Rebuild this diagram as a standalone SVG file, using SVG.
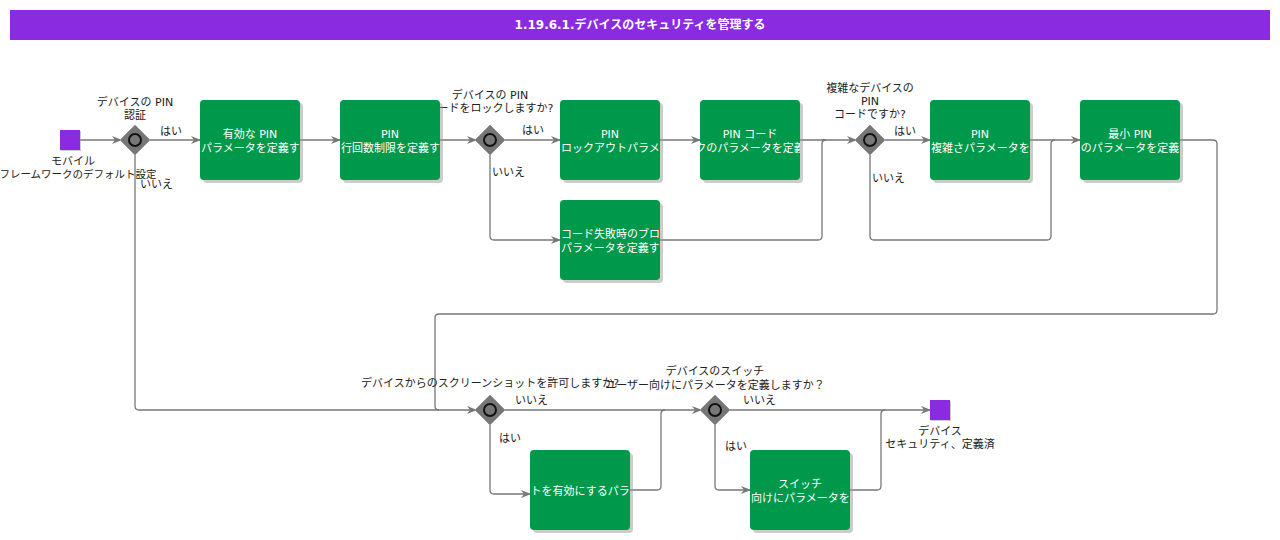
<svg xmlns="http://www.w3.org/2000/svg" width="1280" height="540" viewBox="0 0 1280 540">
<style>
text{font-family:"DejaVu Sans","Noto Sans CJK JP",sans-serif;font-size:11px;fill:#222}
.t{fill:#fff;text-anchor:middle}
.s{fill:#fff;text-anchor:start}
.c{text-anchor:middle}
.box{fill:#00984A}
.sh{fill:#999;opacity:.5}
.ln{fill:none;stroke:#777;stroke-width:1.3}
.gw{fill:#777;stroke:#999}
.gc{fill:#777;stroke:#111;stroke-width:2}
.ev{fill:#8A2BE2}
</style>
<defs>
<marker id="a" markerWidth="10" markerHeight="10" refX="9" refY="5" orient="auto" markerUnits="userSpaceOnUse"><path d="M0,1 L10,5 L0,9 L3,5 Z" fill="#777"/></marker>
<clipPath id="c1"><rect x="200" y="100" width="100" height="80"/></clipPath>
<clipPath id="c2"><rect x="340" y="100" width="100" height="80"/></clipPath>
<clipPath id="c3"><rect x="560" y="100" width="100" height="80"/></clipPath>
<clipPath id="c4"><rect x="700" y="100" width="100" height="80"/></clipPath>
<clipPath id="c5"><rect x="560" y="200" width="100" height="80"/></clipPath>
<clipPath id="c6"><rect x="930" y="100" width="100" height="80"/></clipPath>
<clipPath id="c7"><rect x="1080" y="100" width="100" height="80"/></clipPath>
<clipPath id="c8"><rect x="530" y="450" width="100" height="80"/></clipPath>
<clipPath id="c9"><rect x="750" y="450" width="100" height="80"/></clipPath>
</defs>
<rect x="10" y="10" width="1260" height="30" fill="#8A2BE2"/>
<text x="640" y="29" class="t" style="font-weight:bold;font-size:12px">1.19.6.1.デバイスのセキュリティを管理する</text>

<g id="connectors">
<path class="ln" d="M80,140 H121" marker-end="url(#a)"/>
<path class="ln" d="M149,140 H200" marker-end="url(#a)"/>
<path class="ln" d="M135,154 V406 Q135,410 139,410 H476" marker-end="url(#a)"/>
<path class="ln" d="M300,140 H340" marker-end="url(#a)"/>
<path class="ln" d="M440,140 H476" marker-end="url(#a)"/>
<path class="ln" d="M504,140 H560" marker-end="url(#a)"/>
<path class="ln" d="M490,154 V236 Q490,240 494,240 H560" marker-end="url(#a)"/>
<path class="ln" d="M660,140 H700" marker-end="url(#a)"/>
<path class="ln" d="M800,140 H826 Q822,140 822,144 V236 Q822,240 818,240 H660"/>
<path class="ln" d="M822,140 H856" marker-end="url(#a)"/>
<path class="ln" d="M884,140 H930" marker-end="url(#a)"/>
<path class="ln" d="M870,154 V236 Q870,240 874,240 H1047 Q1051,240 1051,236 V144 Q1051,140 1055,140"/>
<path class="ln" d="M1030,140 H1080" marker-end="url(#a)"/>
<path class="ln" d="M1180,140 H1213 Q1217,140 1217,144 V310 Q1217,314 1213,314 H439 Q435,314 435,318 V406 Q435,410 439,410"/>
<path class="ln" d="M504,410 H701" marker-end="url(#a)"/>
<path class="ln" d="M490,424 V490 Q490,494 494,494 H530" marker-end="url(#a)"/>
<path class="ln" d="M630,490 H657 Q661,490 661,486 V414 Q661,410 665,410"/>
<path class="ln" d="M729,410 H930" marker-end="url(#a)"/>
<path class="ln" d="M715,424 V486 Q715,490 719,490 H750" marker-end="url(#a)"/>
<path class="ln" d="M850,490 H877 Q881,490 881,486 V414 Q881,410 885,410"/>
<text x="160" y="135">はい</text>
<text x="140" y="188">いいえ</text>
<text x="522" y="134">はい</text>
<text x="492" y="176">いいえ</text>
<text x="894" y="135">はい</text>
<text x="872" y="182">いいえ</text>
<text x="515" y="404">いいえ</text>
<text x="499" y="442">はい</text>
<text x="743" y="404">いいえ</text>
<text x="725" y="450">はい</text>
</g>

<g id="start"><rect x="61" y="131" width="20" height="20" class="sh"/><rect x="60" y="130" width="20" height="20" class="ev"/>
<text x="73" y="165" class="c">モバイル</text><text x="78" y="178" class="c" style="font-size:10.5px">フレームワークのデフォルト設定</text></g>
<g id="end"><rect x="931" y="401" width="20" height="20" class="sh"/><rect x="930" y="400" width="20" height="20" class="ev"/>
<text x="940" y="435" class="c">デバイス</text><text x="940" y="448" class="c">セキュリティ、定義済</text></g>

<g id="g1"><path class="gw" d="M135,125 L150,140 L135,155 L120,140 Z"/><circle cx="135" cy="140" r="6" class="gc"/>
<text x="135" y="106" class="c">デバイスの PIN</text><text x="135" y="119" class="c">認証</text></g>
<g id="g2"><path class="gw" d="M490,125 L505,140 L490,155 L475,140 Z"/><circle cx="490" cy="140" r="6" class="gc"/>
<text x="490" y="99" class="c">デバイスの PIN</text><text x="490" y="112" class="c">コードをロックしますか?</text></g>
<g id="g3"><path class="gw" d="M870,125 L885,140 L870,155 L855,140 Z"/><circle cx="870" cy="140" r="6" class="gc"/>
<text x="870" y="92" class="c">複雑なデバイスの</text><text x="870" y="105" class="c">PIN</text><text x="870" y="118" class="c">コードですか?</text></g>
<g id="g4"><path class="gw" d="M490,395 L505,410 L490,425 L475,410 Z"/><circle cx="490" cy="410" r="6" class="gc"/>
<text x="490" y="387" class="c">デバイスからのスクリーンショットを許可しますか?</text></g>
<g id="g5"><path class="gw" d="M715,395 L730,410 L715,425 L700,410 Z"/><circle cx="715" cy="410" r="6" class="gc"/>
<text x="715" y="375" class="c">デバイスのスイッチ</text><text x="715" y="389" class="c">ユーザー向けにパラメータを定義しますか？</text></g>

<g id="n1"><rect x="203" y="103" width="100" height="80" rx="4" class="sh"/><rect x="200" y="100" width="100" height="80" rx="4" class="box"/>
<g clip-path="url(#c1)"><text x="250" y="138" class="t">有効な PIN</text><text x="201" y="152" class="s">パラメータを定義する</text></g></g>
<g id="n2"><rect x="343" y="103" width="100" height="80" rx="4" class="sh"/><rect x="340" y="100" width="100" height="80" rx="4" class="box"/>
<g clip-path="url(#c2)"><text x="390" y="138" class="t">PIN</text><text x="341" y="152" class="s">行回数制限を定義する</text></g></g>
<g id="n3"><rect x="563" y="103" width="100" height="80" rx="4" class="sh"/><rect x="560" y="100" width="100" height="80" rx="4" class="box"/>
<g clip-path="url(#c3)"><text x="610" y="138" class="t">PIN</text><text x="561" y="152" class="s">ロックアウトパラメータを定義する</text></g></g>
<g id="n4"><rect x="703" y="103" width="100" height="80" rx="4" class="sh"/><rect x="700" y="100" width="100" height="80" rx="4" class="box"/>
<g clip-path="url(#c4)"><text x="750" y="138" class="t">PIN コード</text><text x="750" y="152" class="t">ロックのパラメータを定義する</text></g></g>
<g id="n5"><rect x="563" y="203" width="100" height="80" rx="4" class="sh"/><rect x="560" y="200" width="100" height="80" rx="4" class="box"/>
<g clip-path="url(#c5)"><text x="561" y="238" class="s">コード失敗時のブロック</text><text x="561" y="252" class="s">パラメータを定義する</text></g></g>
<g id="n6"><rect x="933" y="103" width="100" height="80" rx="4" class="sh"/><rect x="930" y="100" width="100" height="80" rx="4" class="box"/>
<g clip-path="url(#c6)"><text x="980" y="138" class="t">PIN</text><text x="931" y="152" class="s">複雑さパラメータを定義する</text></g></g>
<g id="n7"><rect x="1083" y="103" width="100" height="80" rx="4" class="sh"/><rect x="1080" y="100" width="100" height="80" rx="4" class="box"/>
<g clip-path="url(#c7)"><text x="1130" y="138" class="t">最小 PIN</text><text x="1130" y="152" class="t">長さのパラメータを定義する</text></g></g>
<g id="n8"><rect x="533" y="453" width="100" height="80" rx="4" class="sh"/><rect x="530" y="450" width="100" height="80" rx="4" class="box"/>
<g clip-path="url(#c8)"><text x="580" y="495" class="t">ショットを有効にするパラメータ</text></g></g>
<g id="n9"><rect x="753" y="453" width="100" height="80" rx="4" class="sh"/><rect x="750" y="450" width="100" height="80" rx="4" class="box"/>
<g clip-path="url(#c9)"><text x="800" y="488" class="t">スイッチ</text><text x="751" y="502" class="s">向けにパラメータを定義</text></g></g>
</svg>
